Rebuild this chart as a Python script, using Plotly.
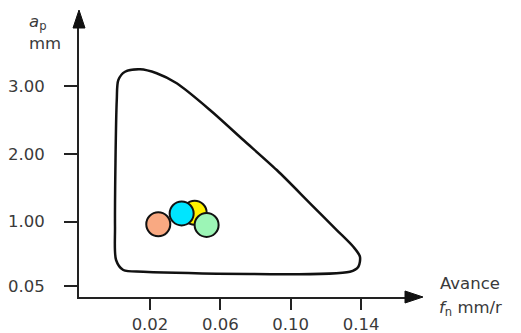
import plotly.graph_objects as go

# ---- data ----
x_ticks = [0.02, 0.06, 0.10, 0.14]
x_tick_labels = ["0.02", "0.06", "0.10", "0.14"]
y_ticks = [0.05, 1.00, 2.00, 3.00]
y_tick_labels = ["0.05", "1.00", "2.00", "3.00"]

# application-area boundary (feed mm/r, depth of cut mm)
boundary_feed = [0.0011, 0.0020, 0.0058, 0.0143, 0.0238, 0.0352, 0.0541, 0.0731,
                 0.0921, 0.1110, 0.1262, 0.1356, 0.1394, 0.1385, 0.1337, 0.0162,
                 0.0048, 0.0007, 0.0001, 0.0011]
boundary_depth = [2.795, 3.091, 3.213, 3.249, 3.190, 3.042, 2.648, 2.204,
                  1.761, 1.270, 0.875, 0.628, 0.481, 0.333, 0.259, 0.259,
                  0.284, 0.432, 0.924, 2.795]

point_feed = [0.0454, 0.0247, 0.0380, 0.0522]
point_depth = [1.13, 0.96, 1.12, 0.95]
point_colors = ["#FFF200", "#F9A982", "#00E5FF", "#9CF5B6"]

FONT = "DejaVu Sans"
TXT = "#3a3a3a"
FS = 16.5

fig = go.Figure()

fig.add_trace(go.Scatter(
    x=boundary_feed, y=boundary_depth, mode="lines",
    line=dict(color="#111111", width=2.5, shape="spline", smoothing=0.8),
    hoverinfo="skip", showlegend=False))

for fx, dy, c in zip(point_feed, point_depth, point_colors):
    fig.add_trace(go.Scatter(
        x=[fx], y=[dy], mode="markers",
        marker=dict(size=24, color=c, line=dict(color="#111111", width=2)),
        showlegend=False))

axis_common = dict(
    showgrid=False, zeroline=False, showline=True, linecolor="#222222", linewidth=2,
    ticks="outside", tickcolor="#222222", tickwidth=2, automargin=False,
    tickfont=dict(family=FONT, size=FS, color=TXT),
)

fig.update_xaxes(range=[-0.02038, 0.16502], tickvals=x_ticks, ticktext=x_tick_labels,
                 ticklen=11, ticklabelstandoff=0, **axis_common)
fig.update_yaxes(range=[-0.1145, 3.859], tickvals=y_ticks, ticktext=y_tick_labels,
                 ticklen=13, ticklabelstandoff=16, **axis_common)

# arrow heads
fig.add_shape(type="path", xref="paper", yref="paper", xsizemode="pixel", ysizemode="pixel",
              xanchor=1, yanchor=0, path="M0,-6 L18,0 L0,6 Z",
              fillcolor="#111111", line=dict(color="#111111", width=1))
fig.add_shape(type="path", xref="paper", yref="paper", xsizemode="pixel", ysizemode="pixel",
              xanchor=0, yanchor=1, path="M-6,0 L0,18 L6,0 Z",
              fillcolor="#111111", line=dict(color="#111111", width=1))

def ann(text, x, y, xanchor="center"):
    fig.add_annotation(text=text, x=x, y=y, xref="paper", yref="paper",
                       xanchor=xanchor, yanchor="middle", showarrow=False,
                       font=dict(family=FONT, size=FS, color=TXT))

ann("<i>a</i><sub>p</sub>", -0.1288, 1.0223)
ann("mm", -0.1043, 0.944)
ann("Avance", 1.1012, 0.052, "left")
ann("<i>f</i><sub>n</sub> mm/r", 1.098, -0.0446, "left")

# page body has an 8px default margin, so the figure is sized to fit the window
fig.update_layout(
    width=513, height=325, autosize=False,
    margin=dict(l=71, r=116, t=20, b=36, autoexpand=False),
    paper_bgcolor="white", plot_bgcolor="white",
    showlegend=False,
)

fig.write_html("out.html")
